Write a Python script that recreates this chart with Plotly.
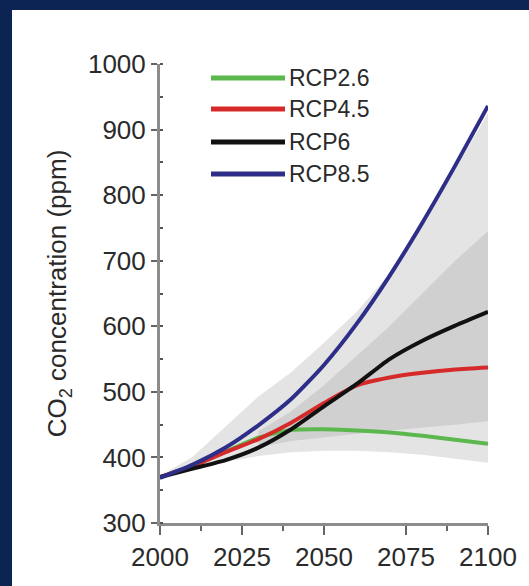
import plotly.graph_objects as go

# ---- data ----
years = [2000, 2010, 2020, 2030, 2040, 2050, 2060, 2070, 2080, 2090, 2100]

rcp26 = [370, 387, 409, 430, 442, 443, 441, 438, 433, 427, 421]
rcp45 = [370, 387, 408, 428, 453, 483, 510, 522, 529, 534, 537]
rcp6 = [370, 383, 396, 415, 443, 478, 512, 550, 578, 601, 622]
rcp85 = [369, 389, 415, 449, 489, 541, 604, 677, 758, 845, 936]

# uncertainty ranges (grey shading)
wide_upper = [372, 401, 447, 493, 530, 575, 622, 680, 755, 840, 925]
wide_lower = [366, 380, 393, 402, 408, 410, 410, 408, 404, 398, 392]
core_years = [2030, 2040, 2050, 2060, 2070, 2080, 2090, 2100]
core_upper = [440, 470, 510, 555, 600, 650, 700, 745]
core_lower = [415, 425, 430, 436, 441, 446, 450, 455]

series_names = ["RCP2.6", "RCP4.5", "RCP6", "RCP8.5"]
series_values = [rcp26, rcp45, rcp6, rcp85]
series_colors = ["#5cb84e", "#d62a2a", "#111111", "#2e2e88"]

x_ticks = [2000, 2025, 2050, 2075, 2100]
y_ticks = [300, 400, 500, 600, 700, 800, 900, 1000]

# ---- figure ----
fig = go.Figure()

fig.add_trace(go.Scatter(
    x=years + years[::-1], y=wide_upper + wide_lower[::-1],
    fill="toself", fillcolor="#e4e4e4", line=dict(width=0),
    mode="lines", showlegend=False, hoverinfo="skip"))
fig.add_trace(go.Scatter(
    x=core_years + core_years[::-1], y=core_upper + core_lower[::-1],
    fill="toself", fillcolor="#d0d0d0", line=dict(width=0),
    mode="lines", showlegend=False, hoverinfo="skip"))

for name, vals, col in zip(series_names, series_values, series_colors):
    fig.add_trace(go.Scatter(
        x=years, y=vals, mode="lines", name=name,
        line=dict(color=col, width=4, shape="spline", smoothing=0.6),
        showlegend=False))

# plot-area pixel geometry
L, R, T, B = 160, 41, 64, 63
W, H = 529, 586
PW, PH = W - L - R, H - T - B


def px(xp):
    return (xp - L) / PW


def py(yp):
    return (H - B - yp) / PH


NAVY = "#0b2452"
shapes = [
    # navy frame strips (top and left)
    dict(type="rect", xref="paper", yref="paper", layer="below",
         x0=px(-5), x1=px(W + 5), y0=py(10), y1=py(-5),
         fillcolor=NAVY, line=dict(width=0)),
    dict(type="rect", xref="paper", yref="paper", layer="below",
         x0=px(-5), x1=px(12), y0=py(H + 5), y1=py(-5),
         fillcolor=NAVY, line=dict(width=0)),
]
annotations = []

# custom legend with long line samples
leg_y = [78, 109, 142, 174]
for name, col, yy in zip(series_names, series_colors, leg_y):
    shapes.append(dict(type="line", xref="paper", yref="paper",
                       x0=px(211), x1=px(285), y0=py(yy), y1=py(yy),
                       line=dict(color=col, width=5)))
    annotations.append(dict(xref="paper", yref="paper", x=px(287), y=py(yy),
                            text=name, showarrow=False, xanchor="left",
                            yanchor="middle",
                            font=dict(family="Liberation Sans, Arial", size=23,
                                      color="#2a2a2a")))

fig.update_layout(
    width=W, height=H,
    margin=dict(l=L, r=R, t=T, b=B, autoexpand=False),
    paper_bgcolor="white",
    plot_bgcolor="white",
    shapes=shapes,
    annotations=annotations,
    font=dict(family="Liberation Sans, Arial", size=26, color="#2a2a2a"),
    xaxis=dict(
        range=[2000, 2100], tickvals=x_ticks, ticktext=[str(v) for v in x_ticks],
        showgrid=False, zeroline=False, automargin=False,
        showline=True, linecolor="#8c8c8c", linewidth=3,
        ticks="outside", ticklen=9, tickwidth=2, tickcolor="#666666",
        minor=dict(tickvals=[2012.5, 2037.5, 2087.5], ticks="outside",
                   ticklen=5, tickwidth=2, tickcolor="#666666"),
        tickfont=dict(size=26),
    ),
    yaxis=dict(
        range=[300, 1000], tickvals=y_ticks, ticktext=[str(v) for v in y_ticks],
        showgrid=False, zeroline=False, automargin=False,
        showline=True, linecolor="#8c8c8c", linewidth=3,
        ticks="outside", ticklen=6, tickwidth=2, tickcolor="#666666",
        minor=dict(dtick=50, ticks="inside", ticklen=3, tickwidth=2,
                   tickcolor="#555555"),
        tickfont=dict(size=26),
        title=dict(text="CO<sub>2</sub> concentration (ppm)",
                   font=dict(size=26, color="#2a2a2a"), standoff=14),
    ),
)

fig.write_html(
    "out.html",
    config={"displayModeBar": False},
    post_script="document.body.style.margin='0';"
                "document.body.style.overflow='hidden';",
)
